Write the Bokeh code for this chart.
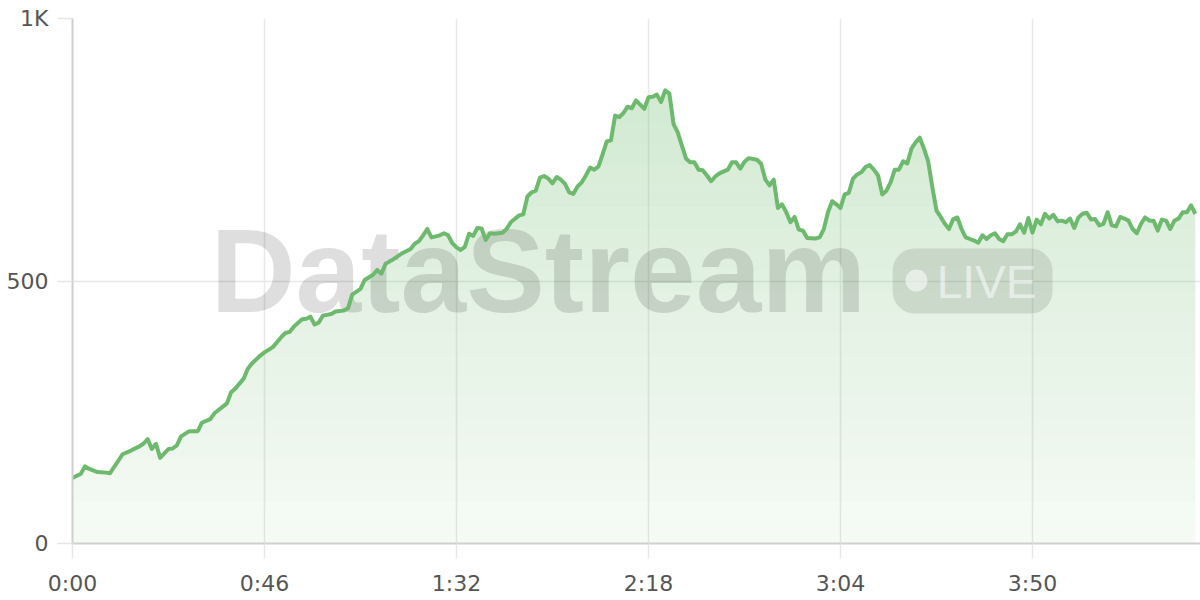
import numpy as np
from bokeh.plotting import figure
from bokeh.models import Range1d, FixedTicker
from bokeh.core.properties import value
from bokeh.embed import file_html
from bokeh.resources import INLINE

# ---- data (seconds since start, live value) ----
seconds = [0, 2, 3, 4, 6, 8, 9, 12, 14, 16, 17, 18, 19, 20, 21, 23, 24, 25, 26, 28,
           30, 31, 33, 34, 37, 38, 39, 41, 42, 43, 45, 46, 48, 50, 51, 52, 53, 55, 56, 57,
           58, 59, 60, 62, 63, 65, 66, 67, 69, 70, 72, 73, 74, 75, 77, 79, 81, 82, 83, 84,
           85, 86, 88, 89, 90, 91, 92, 93, 94, 95, 96, 97, 98, 99, 100, 101, 103, 104, 105, 107,
           108, 109, 110, 111, 112, 113, 114, 115, 116, 117, 118, 119, 120, 121, 122, 123, 124, 125, 126, 127,
           128, 129, 130, 131, 132, 133, 134, 135, 136, 137, 138, 139, 140, 141, 142, 143, 144, 145, 146, 147,
           148, 149, 150, 151, 152, 153, 154, 155, 157, 158, 159, 160, 161, 162, 164, 165, 166, 167, 168, 169,
           170, 171, 172, 173, 174, 175, 176, 178, 179, 180, 181, 182, 183, 184, 185, 186, 187, 188, 189, 190,
           191, 192, 193, 194, 195, 196, 197, 198, 199, 200, 201, 202, 203, 204, 205, 206, 207, 208, 209, 210,
           211, 212, 213, 214, 215, 216, 217, 218, 219, 220, 221, 222, 223, 224, 225, 226, 227, 228, 229, 230,
           231, 232, 233, 234, 235, 236, 237, 238, 239, 240, 241, 242, 243, 244, 245, 246, 247, 248, 249, 250,
           251, 252, 253, 254, 255, 256, 257, 258, 259, 260, 261, 262, 263, 264, 265, 266, 267, 268, 269]
viewers = [125, 133, 147, 142, 136, 135, 134, 170, 177, 185, 190, 199, 180, 190, 163, 180, 181, 187, 204, 214,
           214, 230, 237, 248, 267, 288, 295, 314, 333, 343, 358, 364, 374, 393, 401, 403, 413, 427, 428, 432,
           417, 421, 434, 437, 442, 444, 448, 474, 485, 502, 512, 521, 514, 533, 542, 553, 561, 571, 576, 587,
           599, 583, 587, 591, 587, 572, 564, 559, 565, 590, 586, 601, 600, 578, 591, 590, 592, 599, 612, 625,
           627, 661, 669, 672, 697, 700, 695, 686, 698, 693, 685, 669, 666, 680, 688, 701, 716, 712, 718, 741,
           766, 768, 815, 812, 820, 832, 829, 844, 836, 828, 850, 851, 855, 841, 863, 857, 799, 783, 758, 733,
           726, 726, 712, 711, 701, 690, 699, 705, 712, 726, 726, 714, 727, 734, 731, 723, 693, 682, 693, 639,
           646, 631, 612, 622, 598, 596, 582, 581, 583, 599, 631, 652, 646, 639, 665, 668, 695, 703, 707, 717,
           721, 712, 701, 665, 672, 688, 712, 712, 728, 724, 752, 764, 773, 752, 728, 679, 634, 622, 609, 599,
           618, 621, 599, 583, 580, 577, 573, 587, 580, 587, 591, 580, 576, 589, 589, 594, 608, 592, 620, 592,
           617, 608, 628, 619, 626, 614, 615, 612, 619, 601, 621, 628, 630, 617, 618, 606, 609, 631, 606, 604,
           622, 619, 615, 599, 591, 609, 621, 615, 615, 596, 617, 615, 599, 615, 619, 631, 631, 644, 628]

x_ticks = [0, 46, 92, 138, 184, 230]
x_tick_labels = ["0:00", "0:46", "1:32", "2:18", "3:04", "3:50"]
y_ticks = [0, 500, 1000]
y_tick_labels = ["0", "500", "1K"]

GREEN = "#6db96d"

p = figure(width=1200, height=600, output_backend="svg", toolbar_location=None,
           x_range=Range1d(0, 270.25), y_range=Range1d(0, 1000),
           min_border_left=72, min_border_right=0, min_border_top=18, min_border_bottom=57)
p.outline_line_color = None
p.background_fill_color = "white"
p.border_fill_color = "white"

t = np.array(seconds, dtype=float)
v = np.array(viewers, dtype=float)

# vertical gradient fill: non-overlapping horizontal bands, alpha rising with height
band = 40
for lo in range(0, 1000, band):
    hi = lo + band
    if lo >= v.max():
        break
    mid = min(lo + band / 2, v.max())
    a = 0.06 + 0.25 * (mid / v.max())
    p.varea(x=t, y1=np.minimum(v, lo), y2=np.minimum(v, hi),
            fill_color=GREEN, fill_alpha=a)

# watermark
p.text(x=[111.6], y=[520], text=["DataStream"], text_font=value("Liberation Sans"),
       text_font_style="bold", text_font_size="118px", text_color="black", text_alpha=0.13,
       text_align="center", text_baseline="alphabetic")
p.quad(left=[196.5], right=[234.8], bottom=[438], top=[562], fill_color="black",
       fill_alpha=0.1, line_color=None, border_radius=22)
p.scatter(x=[202.2], y=[501], size=22, fill_color="white", fill_alpha=0.55, line_color=None)
p.text(x=[219.0], y=[499], text=["LIVE"], text_font=value("Liberation Sans"),
       text_font_size="46px", text_color="white", text_alpha=0.55,
       text_align="center", text_baseline="alphabetic")

# line
p.line(t, v, line_color=GREEN, line_width=4, line_join="round")

# axes & grid
for ax in (p.xaxis[0], p.yaxis[0]):
    ax.axis_line_color = "#cfcfcf"
    ax.axis_line_width = 2
    ax.major_tick_line_color = "#e6e6e6"
    ax.major_tick_line_width = 1.5
    ax.major_tick_out = 15
    ax.major_tick_in = 0
    ax.minor_tick_line_color = None
    ax.major_label_text_font = "DejaVu Sans"
    ax.major_label_text_font_size = "22px"
    ax.major_label_text_color = "#555555"

p.xaxis.ticker = FixedTicker(ticks=x_ticks)
p.xaxis.major_label_overrides = {k: s for k, s in zip(x_ticks, x_tick_labels)}
p.xaxis.major_label_standoff = 12
p.yaxis.ticker = FixedTicker(ticks=y_ticks)
p.yaxis.major_label_overrides = {k: s for k, s in zip(y_ticks, y_tick_labels)}
p.yaxis.major_label_standoff = 9

p.xgrid.grid_line_color = "#e8e8e8"
p.ygrid.grid_line_color = "#e8e8e8"
p.xgrid.grid_line_width = 1.5
p.ygrid.grid_line_width = 1.5

open("out.html", "w").write(file_html(p, INLINE))
